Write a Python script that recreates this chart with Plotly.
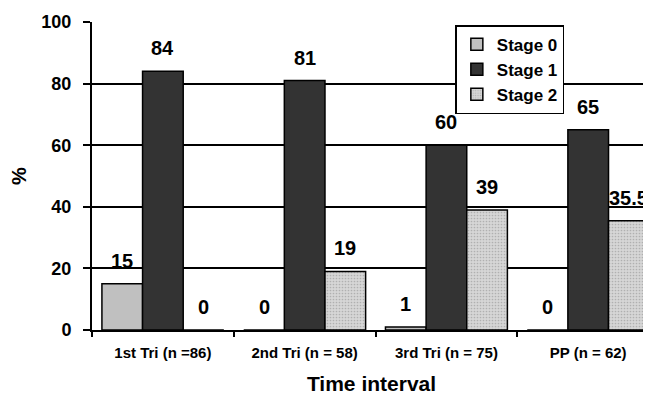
import plotly.graph_objects as go

categories = ["1st Tri (n =86)", "2nd Tri (n = 58)", "3rd Tri (n = 75)", "PP (n = 62)"]
stage0 = [15, 0, 1, 0]
stage1 = [84, 81, 60, 65]
stage2 = [0, 19, 39, 35.5]
label0 = ["15", "0", "1", "0"]
label1 = ["84", "81", "60", "65"]
label2 = ["0", "19", "39", "35.5"]
y_ticks = [0, 20, 40, 60, 80, 100]

FONT = "Arial, Liberation Sans, sans-serif"
BARGAP = 0.14

fig = go.Figure()
fig.add_trace(go.Bar(name="Stage 0", x=categories, y=stage0,
                     marker=dict(color="#c0c0c0", line=dict(color="black", width=1.5))))
fig.add_trace(go.Bar(name="Stage 1", x=categories, y=stage1,
                     marker=dict(color="#333333", line=dict(color="black", width=1.5))))
fig.add_trace(go.Bar(name="Stage 2", x=categories, y=stage2,
                     marker=dict(color="#cfcfcf", line=dict(color="black", width=1.5),
                                 pattern=dict(shape=".", fgcolor="#8a8a8a", bgcolor="#d6d6d6",
                                              size=3, solidity=0.25))))

w = (1 - BARGAP) / 3
annotations = []
for j, (vals, labs) in enumerate([(stage0, label0), (stage1, label1), (stage2, label2)]):
    for i, (v, t) in enumerate(zip(vals, labs)):
        annotations.append(dict(x=i + (j - 1) * w, y=v, xref="x", yref="y", text=t,
                                showarrow=False, yanchor="middle", yshift=23,
                                font=dict(family=FONT, size=20, color="black", weight="bold")))

fig.update_layout(
    width=643, height=388,
    margin=dict(l=84, r=0, t=14, b=66),
    paper_bgcolor="white", plot_bgcolor="white",
    barmode="group", bargap=BARGAP, bargroupgap=0,
    font=dict(family=FONT, color="black"),
    annotations=annotations,
    legend=dict(x=0.65, y=0.99, xanchor="left", yanchor="top",
                bgcolor="white", bordercolor="black", borderwidth=1.5,
                font=dict(family=FONT, size=17, color="black", weight="bold"),
                itemwidth=30, tracegroupgap=0),
    xaxis=dict(type="category", range=[-0.5, 3.443], tickson="boundaries",
               ticks="outside", ticklen=5, tickcolor="black", tickwidth=1.5,
               ticklabelstandoff=8,
               showline=True, linecolor="black", linewidth=2, showgrid=False,
               tickfont=dict(family=FONT, size=15, color="black", weight="bold"),
               title=dict(text="Time interval", standoff=16,
                          font=dict(family=FONT, size=21, color="black", weight="bold"))),
    yaxis=dict(range=[0, 100], tickvals=y_ticks, ticks="outside", ticklen=7,
               tickcolor="black", tickwidth=1.5, ticklabelstandoff=8,
               showline=True, linecolor="black", linewidth=2,
               showgrid=True, gridcolor="black", gridwidth=1.5, zeroline=False,
               tickfont=dict(family=FONT, size=18, color="black", weight="bold"),
               title=dict(text="%", standoff=12,
                          font=dict(family=FONT, size=20, color="black", weight="bold"))),
)

fig.write_html("out.html")
